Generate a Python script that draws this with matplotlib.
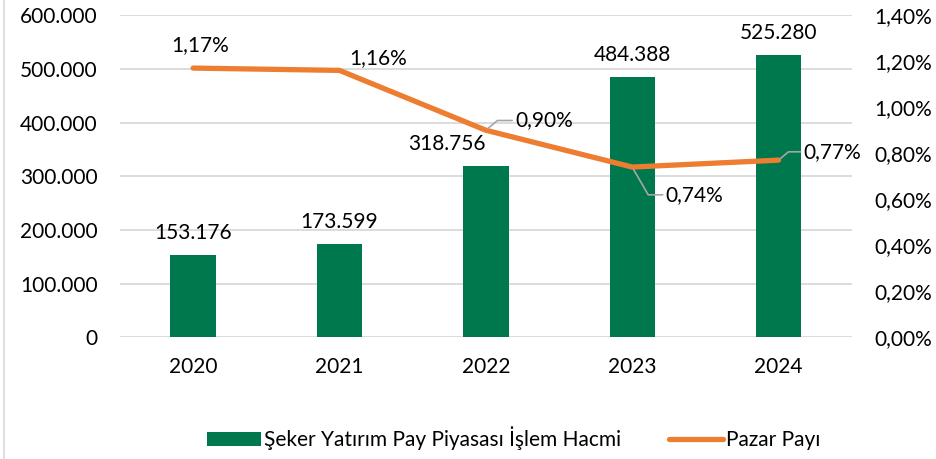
import matplotlib.pyplot as plt
from matplotlib.lines import Line2D

years = ["2020", "2021", "2022", "2023", "2024"]
volume = [153176, 173599, 318756, 484388, 525280]
share = [1.17, 1.16, 0.90, 0.74, 0.77]
vol_labels = ["153.176", "173.599", "318.756", "484.388", "525.280"]
share_labels = ["1,17%", "1,16%", "0,90%", "0,74%", "0,77%"]

green = "#00784E"
orange = "#ED7D31"
grid = "#D9D9D9"

plt.rcParams['font.family'] = ['Lato', 'DejaVu Sans']
plt.rcParams['font.size'] = 15

fig = plt.figure(figsize=(9.37, 4.59), dpi=100)
ax = fig.add_axes([0.128, 0.265, 0.781, 0.702])
x = range(len(years))

ax.bar(x, volume, width=0.31, color=green, zorder=2, label="Şeker Yatırım Pay Piyasası İşlem Hacmi")
ax.set_ylim(0, 600000)
ax.set_xlim(-0.5, 4.5)
ax.set_yticks(range(0, 600001, 100000))
ax.set_yticklabels(["0", "100.000", "200.000", "300.000", "400.000", "500.000", "600.000"])
ax.set_xticks(list(x))
ax.set_xticklabels(years)
ax.grid(axis='y', color=grid, linewidth=1.3, zorder=0)
for s in ax.spines.values():
    s.set_visible(False)
ax.tick_params(length=0, pad=16)
ax.tick_params(axis='x', pad=14)

# bar value labels (2022 one sits left of the bar, as in the original)
offsets = [(0, 9), (0, 9), (-28, 9), (0, 9), (0, 9)]
for i, v in enumerate(volume):
    ax.annotate(vol_labels[i], (i, v), xytext=offsets[i], textcoords='offset points',
                ha='center', va='bottom')

ax2 = ax.twinx()
ax2.plot(x, share, color=orange, linewidth=3.8, solid_capstyle='round', zorder=3,
         label="Pazar Payı")
ax2.set_ylim(0, 1.4)
ax2.set_yticks([0, 0.2, 0.4, 0.6, 0.8, 1.0, 1.2, 1.4])
ax2.set_yticklabels(["0,00%", "0,20%", "0,40%", "0,60%", "0,80%", "1,00%", "1,20%", "1,40%"])
for s in ax2.spines.values():
    s.set_visible(False)
ax2.tick_params(length=0, pad=16)

# share labels
ax2.annotate(share_labels[0], (0, share[0]), xytext=(5, 9), textcoords='offset points',
             ha='center', va='bottom')
ax2.annotate(share_labels[1], (1, share[1]), xytext=(7, 2), textcoords='offset points',
             ha='left', va='bottom')
lead = dict(arrowstyle='-', color='#A6A6A6', linewidth=1.2, shrinkA=0, shrinkB=2,
            connectionstyle='angle,angleA=0,angleB=40,rad=0')
ax2.annotate(share_labels[2], (2, share[2]), xytext=(21, 7), textcoords='offset points',
             ha='left', va='center', arrowprops=lead)
lead2 = dict(lead, connectionstyle='angle,angleA=0,angleB=-60,rad=0')
ax2.annotate(share_labels[3], (3, share[3]), xytext=(24, -20), textcoords='offset points',
             ha='left', va='center', arrowprops=lead2)
ax2.annotate(share_labels[4], (4, share[4]), xytext=(18, 6), textcoords='offset points',
             ha='left', va='center', arrowprops=lead)

h1, l1 = ax.get_legend_handles_labels()
h2, l2 = ax2.get_legend_handles_labels()
fig.legend(h1 + h2, l1 + l2, loc='lower center', bbox_to_anchor=(0.548, -0.022), ncol=2,
           frameon=False, handlelength=2.6, handletextpad=0.15, columnspacing=2.3,
           fontsize=15)

fig.add_artist(Line2D([0.004, 0.004], [0.0, 1.0], color=grid, linewidth=1.2,
                      transform=fig.transFigure))

fig.savefig("out.png", dpi=100)
